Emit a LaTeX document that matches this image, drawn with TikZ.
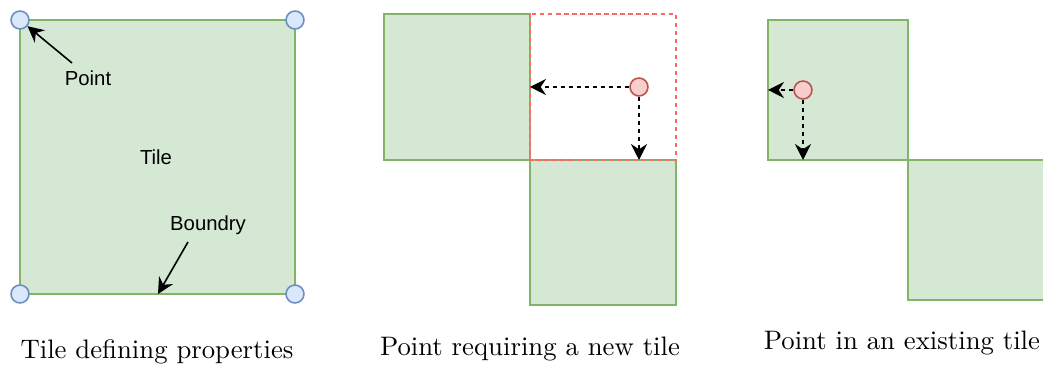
\documentclass[tikz,border=0pt]{standalone}
\usepackage{fontspec}
\newfontfamily\labelfont{Liberation Sans}
\usetikzlibrary{arrows.meta, positioning, calc}

\definecolor{tilefill}{HTML}{D5E8D4}
\definecolor{tiledraw}{HTML}{82B366}
\definecolor{ptfill}{HTML}{DAE8FC}
\definecolor{ptdraw}{HTML}{6C8EBF}
\definecolor{newfill}{HTML}{F8CECC}
\definecolor{newdraw}{HTML}{B85450}
\definecolor{gapred}{HTML}{FF6666}

\tikzset{
  tile/.style={fill=tilefill, draw=tiledraw},
  corner/.style={circle, fill=ptfill, draw=ptdraw, minimum size=6.7pt, inner sep=0pt},
  query/.style={circle, fill=newfill, draw=newdraw, minimum size=6.7pt, inner sep=0pt},
  lbl/.style={font=\labelfont\fontsize{7.6}{9}\selectfont},
  shortdash/.style={dash pattern=on 1.6pt off 1.4pt},
  pointer/.style={-{Stealth[length=6pt, width=6pt, inset=2pt]}, line width=0.6pt},
  probe/.style={pointer, shortdash},
}

\begin{document}
\begin{tikzpicture}[
    % Global options: pixel grid, y pointing down
    x=0.374pt, y=-0.374pt,
    line width=0.6pt,
  ]
    \useasboundingbox (0,0) rectangle (1043,367);

    % --- Tile with its corner points ---
    \filldraw[tile] (20,20) rectangle (295,294);
    \node[corner] (nw) at (20,20) {};
    \node[corner] (ne) at (295,20) {};
    \node[corner] (sw) at (20,294) {};
    \node[corner] (se) at (295,294) {};
    \node[lbl] (pointlbl) at (88,78) {Point};
    \node[lbl] (tilelbl) at (156,157) {Tile};
    \node[lbl] (edgelbl) at (208,225) {Boundry};
    \coordinate (pointtail) at (72,63);
    \coordinate (edgetail) at (188,242);
    \coordinate (edge) at (158,294);
    \draw[pointer] (pointtail) -- (nw);
    \draw[pointer] (edgetail) -- (edge);
    \node (cap1) at (157,352) {Tile defining properties};

    % --- Point that falls outside the tiles ---
    \filldraw[tile] (384,14) rectangle (530,160);
    \filldraw[tile] (530,160) rectangle (676,305);
    \draw[gapred, shortdash] (530,14) rectangle (676,160);
    \node[query] (p2) at (639,87) {};
    \coordinate (p2left) at (530,87);
    \coordinate (p2down) at (639,160);
    \draw[probe] (p2) -- (p2left);
    \draw[probe] (p2) -- (p2down);
    \node (cap2) at (530,349) {Point requiring a new tile};

    % --- Point that falls inside a tile ---
    \filldraw[tile] (768,20) rectangle (908,160);
    \filldraw[tile] (908,160) rectangle (1050,300);
    \node[query] (p3) at (803,90) {};
    \coordinate (p3left) at (768,90);
    \coordinate (p3down) at (803,160);
    \draw[probe] (p3) -- (p3left);
    \draw[probe] (p3) -- (p3down);
    \node (cap3) at (902,343) {Point in an existing tile};
  \end{tikzpicture}
\end{document}
